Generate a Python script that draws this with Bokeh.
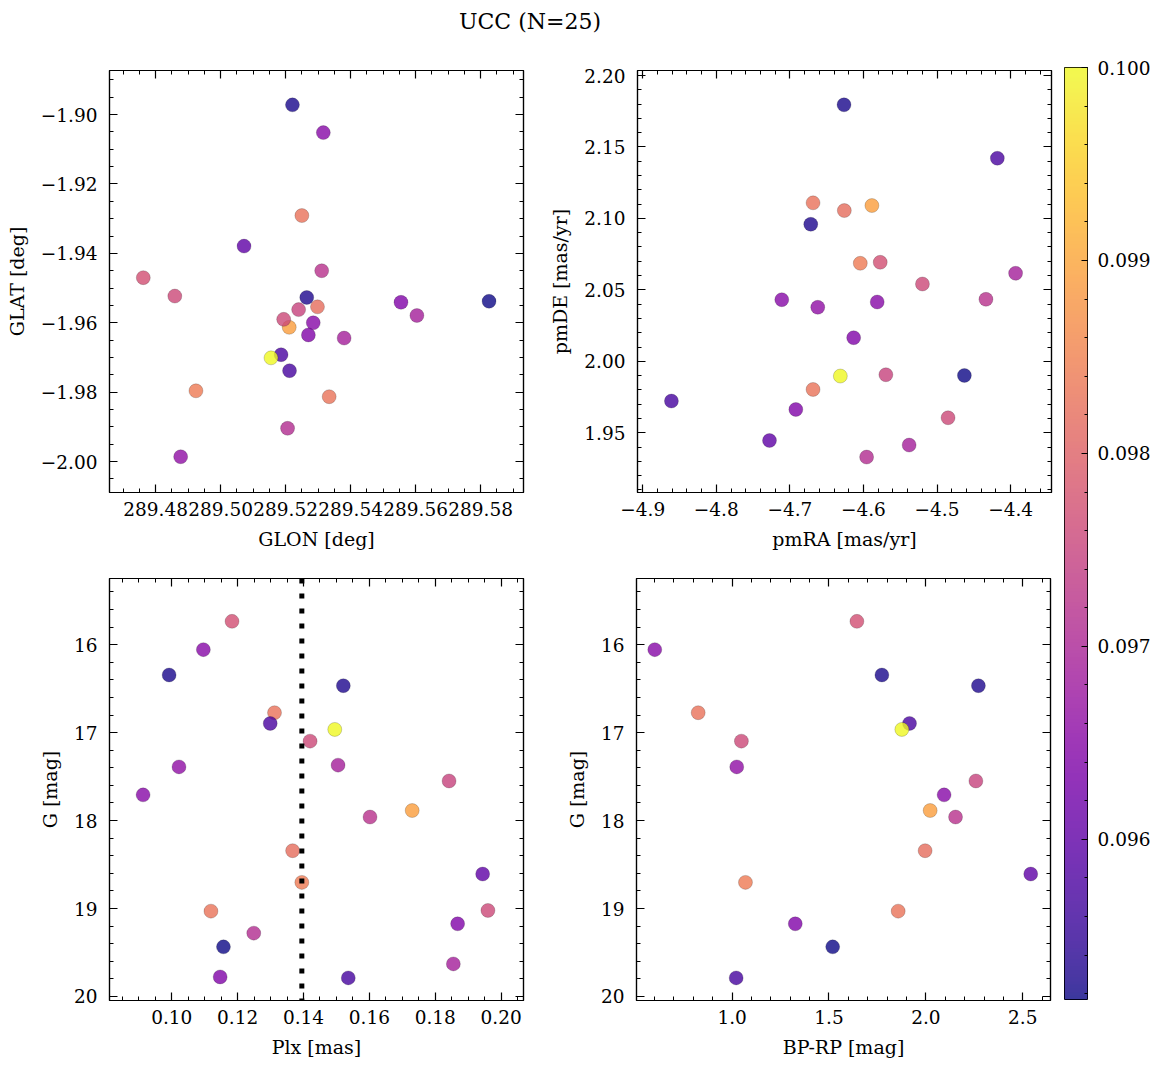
import numpy as np
from bokeh.plotting import figure
from bokeh.models import (Range1d, LinearAxis, SingleIntervalTicker, CustomJSTickFormatter,
                          ColumnDataSource, Span, Div, LinearColorMapper)
from bokeh.layouts import row, column
from bokeh.palettes import Plasma256
from bokeh.transform import linear_cmap
from bokeh.embed import file_html
from bokeh.resources import INLINE

nan = float("nan")

# ---------------- data (25 members) ----------------
plx = [0.1183, 0.1096, 0.0992, 0.1521, 0.1312, 0.1299, 0.1495, 0.1420, 0.1022, 0.1505,
       0.1842, 0.0913, 0.1730, 0.1602, 0.1367, 0.1395, 0.1944, 0.1119, 0.1960, 0.1868,
       0.1249, 0.1157, 0.1855, 0.1147, 0.1536]
gmag = [15.735, 16.057, 16.345, 16.467, 16.774, 16.896, 16.964, 17.097, 17.390, 17.370,
        17.550, 17.708, 17.886, 17.960, 18.343, 18.703, 18.608, 19.030, 19.022, 19.174,
        19.280, 19.436, 19.630, 19.778, 19.789]
bprp = [1.644, 0.601, 1.773, 2.271, 0.825, 1.9155, 1.876, 1.048, 1.024, nan,
        2.258, 2.094, 2.022, 2.153, 1.996, 1.069, 2.541, 1.857, nan, 1.326,
        nan, 1.519, nan, nan, 1.021]
glon = [289.4762, 289.5316, 289.5221, 289.5265, 289.5250, 289.5186, 289.5155, 289.4859, 289.4877, 289.5604,
        289.5240, 289.5285, 289.5211, 289.5311, 289.5298, 289.4924, 289.5072, 289.5334, 289.5194, 289.5270,
        289.5206, 289.5826, 289.5380, 289.5555, 289.5212]
glat = [-1.9470, -1.9052, -1.8972, -1.9527, -1.9291, -1.9692, -1.9701, -1.9523, -1.9986, -1.9579,
        -1.9562, -1.9600, -1.9613, -1.9450, -1.9554, -1.9796, -1.9379, -1.9813, -1.9590, -1.9635,
        -1.9904, -1.9538, -1.9644, -1.9541, -1.9738]
pmra = [-4.5772, -4.7110, -4.6264, -4.6716, -4.6685, -4.4180, -4.6314, -4.5198, -4.6621, -4.3932,
        -4.5695, -4.5813, -4.5885, -4.4335, -4.6260, -4.6043, -4.7277, -4.6685, -4.4850, -4.6133,
        -4.5957, -4.4628, -4.5379, -4.6919, -4.8610]
pmde = [2.0693, 2.0431, 2.1795, 2.0959, 2.1109, 2.1421, 1.9897, 2.0541, 2.0378, 2.0616,
        1.9906, 2.0415, 2.1090, 2.0434, 2.1055, 2.0686, 1.9446, 1.9803, 1.9605, 2.0165,
        1.9330, 1.9901, 1.9414, 1.9663, 1.9722]
prob = [0.09770, 0.09650, 0.09525, 0.09530, 0.09825, 0.09575, 0.10000, 0.09760, 0.09660, 0.09690,
        0.09750, 0.09650, 0.09890, 0.09720, 0.09820, 0.09840, 0.09600, 0.09830, 0.09760, 0.09640,
        0.09710, 0.09517, 0.09690, 0.09640, 0.09570]
plx_line = 0.1395

title_text = "UCC (N=25)"
cb_ticks_interval = 0.001

FONT = "DejaVu Serif"
TICK_FS = "18.5px"
LAB_FS = "19px"

vmin, vmax = min(prob), max(prob)
src = ColumnDataSource(dict(glon=glon, glat=glat, pmra=pmra, pmde=pmde, plx=plx,
                            gmag=gmag, bprp=bprp, prob=prob))
cmap = linear_cmap("prob", Plasma256, vmin, vmax)


def fmt(dec):
    return CustomJSTickFormatter(code=f"return tick.toFixed({dec}).replace('-', '\\u2212');")


def blank():
    return CustomJSTickFormatter(code="return '';")


def style_axis(ax, shown, loc):
    ax.axis_line_color = "black"
    ax.axis_line_width = 1.2
    ax.major_tick_in = 8
    ax.major_tick_out = 0
    ax.minor_tick_in = 4
    ax.minor_tick_out = 0
    ax.major_tick_line_color = "black"
    ax.minor_tick_line_color = "black"
    ax.major_tick_line_width = 1.2
    ax.minor_tick_line_width = 1.0
    ax.major_label_text_font = FONT
    ax.major_label_text_font_size = TICK_FS
    ax.major_label_text_color = "black"
    ax.axis_label_text_font = FONT
    ax.axis_label_text_font_size = LAB_FS
    ax.axis_label_text_font_style = "normal"
    ax.axis_label_text_color = "black"
    if shown:
        ax.major_label_standoff = 12 if loc == "left" else 9
        ax.axis_label_standoff = 10 if loc == "left" else 9
    else:
        ax.major_label_standoff = 0
        ax.axis_label_standoff = 0


def make_panel(xr, yr, xt, yt, xlab, ylab, xdec, ydec, bl, br, bt, bb):
    p = figure(x_range=Range1d(*xr), y_range=Range1d(*yr), frame_width=414, frame_height=422,
               min_border_left=bl, min_border_right=br, min_border_top=bt, min_border_bottom=bb,
               x_axis_type=None, y_axis_type=None, toolbar_location=None, output_backend="svg")
    p.outline_line_color = "black"
    p.outline_line_width = 1.2
    p.background_fill_color = "white"
    p.border_fill_color = "white"
    for loc in ["below", "left", "above", "right"]:
        horiz = loc in ("below", "above")
        interval, nminor = xt if horiz else yt
        shown = loc in ("below", "left")
        if shown:
            f = fmt(xdec if horiz else ydec)
        else:
            f = blank()
        ax = LinearAxis(ticker=SingleIntervalTicker(interval=interval, num_minor_ticks=nminor),
                        formatter=f)
        style_axis(ax, shown, loc)
        if shown:
            ax.axis_label = xlab if horiz else ylab
        p.add_layout(ax, loc)
    return p


def add_points(p, xcol, ycol):
    p.scatter(xcol, ycol, source=src, size=14, fill_color=cmap, fill_alpha=0.8,
              line_color="black", line_alpha=0.3, line_width=0.6)


# top-left: GLON / GLAT
p1 = make_panel((289.4658, 289.5932), (-2.0089, -1.8873), (0.02, 4), (0.02, 4),
                "GLON [deg]", "GLAT [deg]", 2, 2, 109, 14, 30, 68)
add_points(p1, "glon", "glat")

# top-right: pmRA / pmDE
p2 = make_panel((-4.9071, -4.3444), (1.9082, 2.2035), (0.1, 5), (0.05, 5),
                "pmRA [mas/yr]", "pmDE [mas/yr]", 1, 2, 100, 5, 30, 68)
add_points(p2, "pmra", "pmde")

# bottom-left: Plx / G
p3 = make_panel((0.0811, 0.2068), (20.046, 15.248), (0.02, 4), (1, 5),
                "Plx [mas]", "G [mag]", 2, 0, 109, 14, 18, 60)
p3.add_layout(Span(location=plx_line, dimension="height", line_color="black",
                   line_width=5, line_dash="5 10"))
add_points(p3, "plx", "gmag")

# bottom-right: BP-RP / G
p4 = make_panel((0.5067, 2.643), (20.046, 15.248), (0.5, 5), (1, 5),
                "BP-RP [mag]", "G [mag]", 1, 0, 99, 6, 18, 60)
add_points(p4, "bprp", "gmag")

# colorbar
cb = figure(x_range=Range1d(0, 1), y_range=Range1d(vmin, vmax + 1e-7), frame_width=23, frame_height=932,
            min_border_left=8, min_border_right=65, min_border_top=27, min_border_bottom=20,
            x_axis_type=None, y_axis_type=None, toolbar_location=None, output_backend="svg")
cb.outline_line_color = "black"
cb.outline_line_width = 1.0
mapper = LinearColorMapper(palette=Plasma256, low=vmin, high=vmax)
grad = np.linspace(vmin, vmax, 256).reshape(-1, 1)
cb.image(image=[grad], x=0, y=vmin, dw=1, dh=vmax - vmin, color_mapper=mapper, global_alpha=0.8)
cax = LinearAxis(ticker=SingleIntervalTicker(interval=cb_ticks_interval, num_minor_ticks=5),
                 formatter=fmt(3))
style_axis(cax, True, "right")
cax.major_tick_in = 6
cax.minor_tick_in = 3
cax.axis_line_color = None
cax.major_label_standoff = 10
cb.add_layout(cax, "right")

title = Div(text=f'<div style="padding-top:6px">{title_text}</div>', width=1060, height=40, margin=0,
            styles={"font-family": FONT, "font-size": "22px", "text-align": "center",
                    "color": "black"})

layout = column(title, row(column(row(p1, p2), row(p3, p4)), cb))

with open("out.html", "w", encoding="utf-8") as fh:
    fh.write(file_html(layout, INLINE, title=title_text))
